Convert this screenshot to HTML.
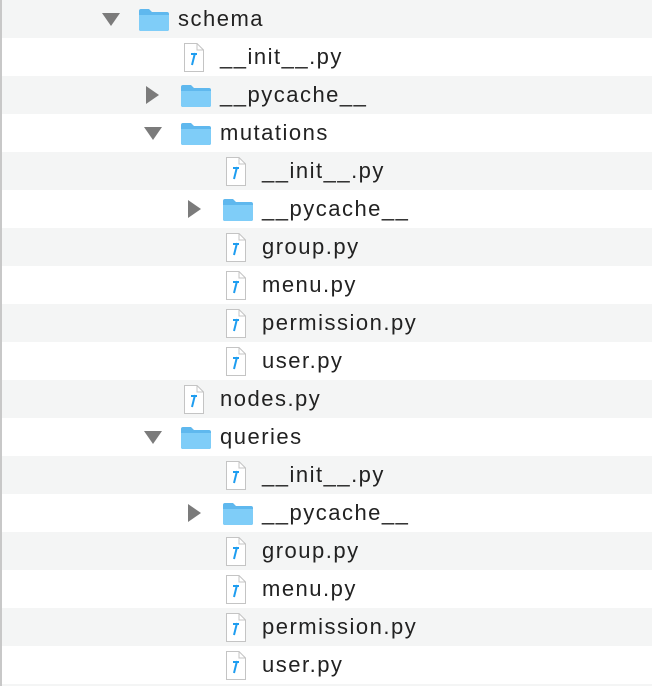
<!DOCTYPE html><html><head><style>
html,body{margin:0;width:652px;height:686px;overflow:hidden;background:#fff;font-family:"Liberation Sans",sans-serif}
#c{position:relative;width:652px;height:686px;overflow:hidden;background:#f4f5f5}
.r{position:absolute;left:0;width:652px;height:38px;background:#fff}
.g{background:#f4f5f5}
.t{position:absolute;top:7px;font-size:22px;letter-spacing:1.5px;color:#222;line-height:24px}
.tri{position:absolute}
.edge{position:absolute;left:0;top:0;width:2px;height:686px;background:#c8c8c8}
</style></head><body>
<div id="c"></div>
<div class="edge"></div>
<script>
var rows=[[0,'f','schema','o'],[1,'p','__init__.py'],[1,'f','__pycache__','c'],[1,'f','mutations','o'],
[2,'p','__init__.py'],[2,'f','__pycache__','c'],[2,'p','group.py'],[2,'p','menu.py'],[2,'p','permission.py'],[2,'p','user.py'],
[1,'p','nodes.py'],[1,'f','queries','o'],[2,'p','__init__.py'],[2,'f','__pycache__','c'],[2,'p','group.py'],[2,'p','menu.py'],[2,'p','permission.py'],[2,'p','user.py']];
var h='';
for(var i=0;i<18;i++){h+='<div class="r'+(i%2==0?' g':'')+'" style="top:'+(i*38)+'px">';
var r=rows[i];if(r){var o=r[0]*42;
if(r[3]=='o')h+='<svg class="tri" style="left:'+(102+o)+'px;top:13px" width="18" height="14"><path d="M0 0H18L9 13Z" fill="#7b7b7b"/></svg>';
if(r[3]=='c')h+='<svg class="tri" style="left:'+(104+o)+'px;top:10px" width="14" height="18"><path d="M0 0V18L13 9Z" fill="#7b7b7b"/></svg>';
if(r[1]=='f')h+='<svg class="tri" style="left:'+(138+o)+'px;top:8px" width="32" height="24"><path d="M1 3Q1 1 3 1H11L14 4H29Q31 4 31 6V21Q31 23 29 23H3Q1 23 1 21Z" fill="#5fb8ee"/><path d="M1 7H31V21Q31 23 29 23H3Q1 23 1 21Z" fill="#7fcdf8"/></svg>';
else h+='<svg class="tri" style="left:'+(184+o-42)+'px;top:5px" width="20" height="29"><path d="M0.5 0.5H13L19.5 7V28.5H0.5Z" fill="#fff" stroke="#c4c4c4"/><path d="M13 0.5V7H19.5" fill="none" stroke="#c4c4c4"/><path d="M11 10L8 22M7 11H13" stroke="#1e9df0" stroke-width="2" fill="none"/></svg>';
h+='<div class="t" style="left:'+(178+o)+'px">'+r[2]+'</div>';}
h+='</div>';}
document.getElementById('c').innerHTML=h;
</script></body></html>
